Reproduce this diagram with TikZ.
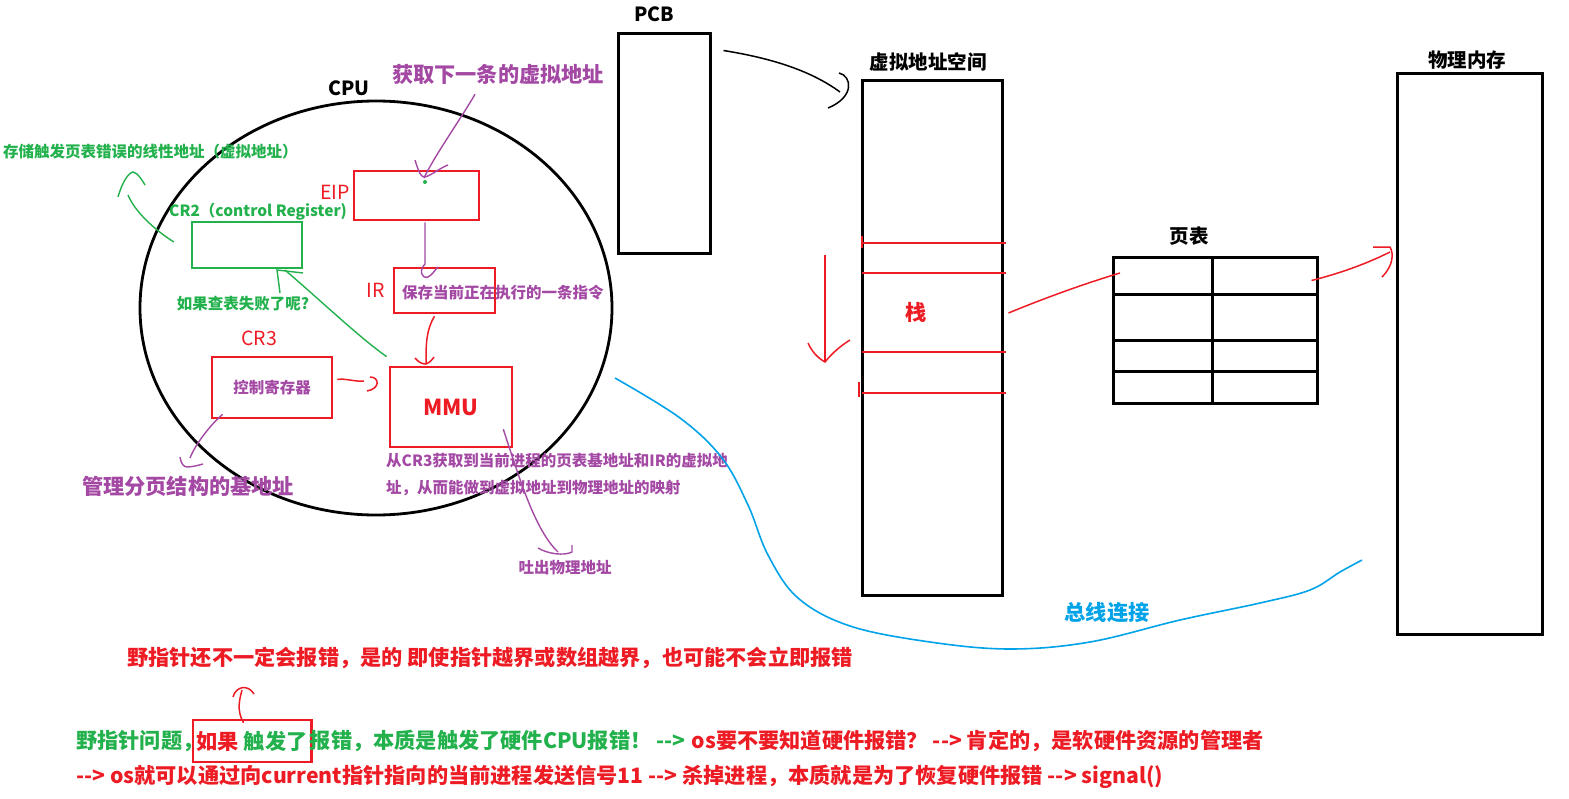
\documentclass[tikz,border=0pt]{standalone}
\usepackage{fontspec}
\newfontfamily\cjk{Noto Sans CJK SC}
\usetikzlibrary{shapes.geometric,positioning,calc}
\definecolor{pRed}{RGB}{237,28,36}
\definecolor{pGreen}{RGB}{34,177,76}
\definecolor{pPurple}{RGB}{163,73,164}
\definecolor{pBlue}{RGB}{0,162,232}

\begin{document}
\begin{tikzpicture}[
    x=1pt, y=-1pt,
    kbox/.style={rectangle, draw=black, line width=3pt, inner sep=0pt},
    rbox/.style={rectangle, draw=pRed, line width=2.6pt, inner sep=0pt},
    gbox/.style={rectangle, draw=pGreen, line width=2.4pt, inner sep=0pt},
    big/.style={font=\cjk\bfseries\fontsize{21.2}{25}\selectfont, inner sep=1pt},
    head/.style={font=\cjk\bfseries\fontsize{19.5}{23}\selectfont, inner sep=1pt},
    reg/.style={font=\cjk\fontsize{19.5}{23}\selectfont, inner sep=1pt, text=pRed},
    small/.style={font=\cjk\bfseries\fontsize{15.5}{27}\selectfont, inner sep=1pt},
    kline/.style={black, line width=1.5pt},
    rline/.style={pRed, line width=1.5pt},
    gline/.style={pGreen, line width=1.4pt},
    pline/.style={pPurple, line width=1.4pt},
    busline/.style={pBlue, line width=1.6pt},
  ]
  \useasboundingbox (0,0) rectangle (1569,798);

  % CPU and its registers
  \node[ellipse, draw, line width=2.8pt, minimum width=472pt, minimum height=414pt] (cpu) at (376,308) {};
  \node[head] (cpulbl) at (349,88) {CPU};
  \node[rbox, minimum width=125pt, minimum height=49pt] (eip) at (416.5,195.5) {};
  \node[reg] (eiplbl) at (335,192) {EIP};
  \node[rbox, minimum width=101pt, minimum height=45pt] (ir) at (444.5,290.5) {};
  \node[reg] (irlbl) at (376,290) {IR};
  \node[small, text=pPurple, anchor=west] (irtxt) at (401,293) {保存当前正在执行的一条指令};
  \node[rbox, minimum width=120pt, minimum height=61pt, font=\cjk\bfseries\fontsize{15.5}{18}\selectfont, text=pPurple] (cr3) at (272,387.5) {控制寄存器};
  \node[reg] (cr3lbl) at (259,338) {CR3};
  \node[rbox, minimum width=122pt, minimum height=80pt, font=\cjk\bfseries\fontsize{22}{26}\selectfont, text=pRed] (mmu) at (451,407) {MMU};
  \node[gbox, minimum width=110pt, minimum height=46pt] (cr2) at (247,245) {};
  \node[small, text=pGreen, anchor=west] (cr2lbl) at (168,212) {CR2（control Register)};

  % notes round the CPU
  \node[big, text=pPurple] (eipnote) at (498,74) {获取下一条的虚拟地址};
  \node[small, text=pGreen, anchor=west] (cr2note) at (2,152) {存储触发页表错误的线性地址（虚拟地址）};
  \node[small, text=pGreen] (failnote) at (243,304) {如果查表失败了呢?};
  \node[big, text=pPurple] (basenote) at (188,486) {管理分页结构的基地址};
  \node[small, text=pPurple, anchor=north west, align=left] (mmunote) at (385,452) {从CR3获取到当前进程的页表基地址和IR的虚拟地\\址，从而能做到虚拟地址到物理地址的映射};
  \node[small, text=pPurple] (outnote) at (565,568) {吐出物理地址};

  % memory side
  \node[kbox, minimum width=92pt, minimum height=220pt] (pcb) at (664,143) {};
  \node[head] (pcblbl) at (654,14) {PCB};
  \node[kbox, minimum width=140pt, minimum height=515pt] (vas) at (932,337.5) {};
  \node[head] (vaslbl) at (928,62) {虚拟地址空间};
  \node[big, text=pRed] (stack) at (916,312) {栈};
  \node[kbox, minimum width=204pt, minimum height=146pt] (pt) at (1215,330) {};
  \node[head] (ptlbl) at (1189,236) {页表};
  \node[kbox, minimum width=145pt, minimum height=561pt] (pm) at (1469.5,353.5) {};
  \node[head] (pmlbl) at (1467,60) {物理内存};
  \node[big, text=pBlue] (bus) at (1107,613) {总线连接};

  \foreach \r in {294,340,371}
    \draw[line width=3pt] (1113,\r) -- (1317,\r);
  \draw[line width=3pt] (1212,257) -- (1212,403);

  \foreach \r in {243,273,352,393}
    \draw[rline] (862,\r) -- (1006,\r);
  \draw[pRed, line width=2.2pt] (862,236) -- (862,248);
  \draw[pRed, line width=2.2pt] (859,382) -- (859,397);
  \draw[rline] (825,255) -- (825,362);
  \draw[rline] (808,343) .. controls (812,352) and (818,358) .. (825,362) .. controls (833,352) and (842,345) .. (850,340);

  % bottom text
  \node[big, text=pRed, anchor=west] (maybe) at (126,658) {野指针还不一定会报错，是的 即使指针越界或数组越界，也可能不会立即报错};
  \node[big, text=pGreen, anchor=west, inner sep=0pt] (wild) at (76,741) {野指针问题，};
  \node[big, draw=pRed, line width=2.2pt, inner sep=4pt, minimum height=42pt, text=pGreen, right=-12pt of wild] (ifbox) {\textcolor{pRed}{如果} 触发了};
  \node[big, text=pGreen, inner sep=0pt, right=-3pt of ifbox] (hwerr) {报错，本质是触发了硬件CPU报错！ -->};
  \node[big, text=pRed, inner sep=0pt, right=6pt of hwerr] (osknow) {os要不要知道硬件报错？ --> 肯定的，是软硬件资源的管理者};
  \node[big, text=pRed, anchor=west, inner sep=0pt] (sigline) at (76,777) {--> os就可以通过向current指针指向的当前进程发送信号11 --> 杀掉进程，本质就是为了恢复硬件报错 --> signal()};

  % connectors
  \coordinate (eiptip) at (424,178);
  \draw[pline] ($(eipnote.south)+(-23,9)$) .. controls (460,120) and (435,155) .. (eiptip);
  \draw[pline, shift={(eiptip)}] (-9,-18) .. controls (-6,-8) and (-3,0) .. (1,-1) .. controls (8,-3) and (16,-10) .. (24,-13);
  \fill[pGreen] (425,182) circle (2pt);

  \draw[pline] ($(eip.south)+(8.5,1)$) -- (425,264) .. controls (419,270) and (421,279) .. (428,277) .. controls (432,275) and (435,270) .. (438,267);

  \coordinate (mmutip) at (426,363);
  \draw[rline] ($(ir.south)+(-10,2)$) .. controls (426,330) and (426,345) .. (mmutip);
  \draw[rline, shift={(mmutip)}] (-11,-5) .. controls (-7,0) and (-3,1) .. (0,1) .. controls (3,0) and (6,-3) .. (8,-6);

  \coordinate (cr3tip) at (364,381);
  \draw[rline] ($(cr3.east)+(4,-8)$) .. controls (345,378) and (355,382) .. (cr3tip);
  \draw[rline, shift={(cr3tip)}] (6,-4) .. controls (16,-4) and (16,8) .. (3,10);

  \coordinate (basetip) at (190,458);
  \draw[pline] ($(cr3.south west)+(12,-5)$) .. controls (210,425) and (195,445) .. (basetip);
  \draw[pline, shift={(basetip)}] (-10,-1) .. controls (-9,6) and (-6,9) .. (-3,9) .. controls (3,9) and (9,7) .. (13,6);

  \coordinate (outtip) at (558,552);
  \draw[pline] ($(mmu.south east)+(-10,-19)$) .. controls (520,480) and (535,530) .. (outtip);
  \draw[pline, shift={(outtip)}] (-20,-4) .. controls (-10,2) and (6,4) .. (14,0) -- (14,-7);

  \coordinate (cr2tip) at (128,195);
  \draw[gline] ($(cr2.west)+(-17,-3)$) .. controls (155,230) and (135,212) .. (cr2tip);
  \draw[gline, shift={(cr2tip)}] (-10,2) .. controls (-6,-12) and (0,-22) .. (5,-23) .. controls (10,-22) and (14,-15) .. (17,-10);

  \coordinate (failtip) at (285,270);
  \draw[gline] ($(mmu.north west)+(-2,-9)$) .. controls (360,338) and (320,300) .. (failtip);
  \draw[gline, shift={(failtip)}] (-5,23) -- (-8,0) -- (18,3);

  \coordinate (vastip) at (840,92);
  \draw[kline] ($(pcb.north east)+(12,19)$) .. controls (770,58) and (810,70) .. (vastip);
  \draw[kline, shift={(vastip)}] (-1,-19) .. controls (12,-16) and (15,5) .. (-12,16);

  \coordinate (pttip) at (1120,273);
  \draw[rline] ($(vas.east)+(5,-24.5)$) .. controls (1040,300) and (1080,285) .. (pttip);

  \coordinate (pmtip) at (1390,252);
  \draw[rline] ($(pt.north east)+(-7,25)$) .. controls (1345,272) and (1370,262) .. (pmtip);
  \draw[rline, shift={(pmtip)}] (-17,-5) -- (0,-5) .. controls (4,2) and (3,14) .. (-8,25);

  \coordinate (busstart) at (615,378);
  \coordinate (busend) at (1362,560);
  \draw[busline] plot[smooth, tension=0.6] coordinates {(busstart) (680,418) (722,458) (748,505) (768,555) (798,598) (850,626) (930,642) (1010,649) (1090,642) (1180,620) (1260,603) (1310,590) (1340,572) (busend)};

  \draw[rline] ($(ifbox.north west)+(52,4)$) .. controls (236,710) and (240,698) .. (242,690);
  \draw[rline] (233,697) .. controls (236,686) and (248,684) .. (254,694);
\end{tikzpicture}
\end{document}
